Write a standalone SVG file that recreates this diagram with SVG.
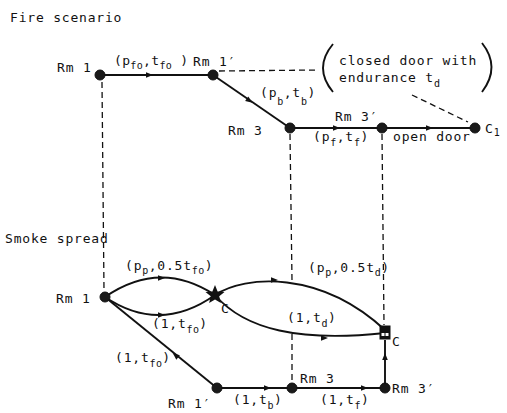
<svg xmlns="http://www.w3.org/2000/svg" width="507" height="413" viewBox="0 0 507 413">
<style>
text{font-family:"DejaVu Sans Mono","Liberation Mono",monospace;font-size:13px;fill:#111;letter-spacing:0.8px}
.sub{font-size:10px;letter-spacing:0.4px}
.e{fill:none;stroke:#111;stroke-width:1.9}
.d{fill:none;stroke:#111;stroke-width:1.3;stroke-dasharray:6,4}
.n{fill:#1a1a1a;stroke:#111;stroke-width:1}
</style>
<defs>
<path id="arr" d="M-4,-2.8 L3,0 L-4,2.8 Z" fill="#111"/>
</defs>
<rect width="507" height="413" fill="#fff"/>
<text x="10" y="22">Fire scenario</text>
<text x="5" y="243">Smoke spread</text>

<g id="connectors">
<path class="d" d="M102,82 L104,291"/>
<path class="d" d="M290,134 L292,281"/>
<path class="d" d="M292,334 L292,382"/>
<path class="d" d="M382,134 L384,325"/>
<path class="d" d="M219,71 L318,70"/>
<path class="d" d="M412,95 L468,122"/>
<path class="e" d="M100,75 L213,75"/>
<path class="e" d="M213,75 L290,128"/>
<path class="e" d="M290,128 L382,128"/>
<path class="e" d="M382,128 L475,128"/>
<use href="#arr" transform="translate(150,75)"/>
<use href="#arr" transform="translate(250,101) rotate(34.5)"/>
<use href="#arr" transform="translate(337,128)"/>
<use href="#arr" transform="translate(430,128)"/>
<path class="e" d="M105,297 Q160,259 215,295"/>
<path class="e" d="M105,297 Q160,334 215,295"/>
<path class="e" d="M215,295 C245,275 320,270 385,330"/>
<path class="e" d="M215,295 C245,330 300,342 385,333"/>
<path class="e" d="M105,297 L217,388"/>
<path class="e" d="M217,388 L292,388"/>
<path class="e" d="M292,388 L385,388"/>
<path class="e" d="M385,388 L385,340"/>
<use href="#arr" transform="translate(162,278)"/>
<use href="#arr" transform="translate(162,315)"/>
<use href="#arr" transform="translate(275,280)"/>
<use href="#arr" transform="translate(325,338)"/>
<use href="#arr" transform="translate(175,355) rotate(219)"/>
<use href="#arr" transform="translate(268,388)"/>
<use href="#arr" transform="translate(365,388)"/>
<use href="#arr" transform="translate(385,356) rotate(-90)"/>
<path class="e" d="M333,44 Q313,68 333,92" stroke-width="1.6"/>
<path class="e" d="M482,43 Q501,67 482,92" stroke-width="1.6"/>
</g>

<text x="114" y="65" style="letter-spacing:0.3px">(p<tspan class="sub" dy="4">fo</tspan><tspan dy="-4">,t</tspan><tspan class="sub" dy="4">fo</tspan><tspan dy="-4"> )</tspan></text>
<text x="260" y="97">(p<tspan class="sub" dy="8">b</tspan><tspan dy="-8">,t</tspan><tspan class="sub" dy="8">b</tspan><tspan dy="-8">)</tspan></text>
<text x="313" y="141">(p<tspan class="sub" dy="5">f</tspan><tspan dy="-5">,t</tspan><tspan class="sub" dy="5">f</tspan><tspan dy="-5">)</tspan></text>
<text x="393" y="141">open door</text>
<text x="339" y="65">closed door with</text>
<text x="339" y="82">endurance t<tspan class="sub" dy="5">d</tspan></text>
<text x="125" y="270">(p<tspan class="sub" dy="4">p</tspan><tspan dy="-4">,0.5t</tspan><tspan class="sub" dy="4">fo</tspan><tspan dy="-4">)</tspan></text>
<text x="152" y="328">(1,t<tspan class="sub" dy="5">fo</tspan><tspan dy="-5">)</tspan></text>
<text x="308" y="272">(p<tspan class="sub" dy="4">p</tspan><tspan dy="-4">,0.5t</tspan><tspan class="sub" dy="4">d</tspan><tspan dy="-4">)</tspan></text>
<text x="287" y="322">(1,t<tspan class="sub" dy="5">d</tspan><tspan dy="-5">)</tspan></text>
<text x="115" y="362">(1,t<tspan class="sub" dy="5">fo</tspan><tspan dy="-5">)</tspan></text>
<text x="233" y="404">(1,t<tspan class="sub" dy="5">b</tspan><tspan dy="-5">)</tspan></text>
<text x="320" y="404">(1,t<tspan class="sub" dy="5">f</tspan><tspan dy="-5">)</tspan></text>

<g id="f-rm1"><circle class="n" cx="100" cy="75" r="5"/><text x="57" y="72">Rm 1</text></g>
<g id="f-rm1p"><circle class="n" cx="213" cy="75" r="5"/><text x="193" y="66">Rm 1′</text></g>
<g id="f-rm3"><circle class="n" cx="290" cy="128" r="5"/><text x="228" y="135">Rm 3</text></g>
<g id="f-rm3p"><circle class="n" cx="382" cy="128" r="5"/><text x="335" y="121">Rm 3′</text></g>
<g id="f-c1"><circle class="n" cx="475" cy="128" r="5"/><text x="485" y="133">C<tspan class="sub" dy="3">1</tspan></text></g>

<g id="s-rm1"><circle class="n" cx="105" cy="297" r="5"/><text x="56" y="303">Rm 1</text></g>
<g id="s-c1"><polygon points="215,285 217.6,291.4 224.5,291.9 219.2,296.3 220.9,303.1 215,299.4 209.1,303.1 210.8,296.3 205.5,291.9 212.4,291.4" fill="#111"/><text x="221" y="313">C</text></g>
<g id="s-c2"><rect x="380" y="326" width="10" height="13" fill="#111" stroke="#111"/><rect x="381.5" y="333" width="3" height="3" fill="#fff"/><rect x="385.5" y="333" width="3" height="3" fill="#fff"/><text x="392" y="346">C</text></g>
<g id="s-rm1p"><circle class="n" cx="217" cy="388" r="5"/><text x="168" y="408">Rm 1′</text></g>
<g id="s-rm3"><circle class="n" cx="292" cy="388" r="5"/><text x="300" y="383">Rm 3</text></g>
<g id="s-rm3p"><circle class="n" cx="385" cy="388" r="5"/><text x="392" y="393">Rm 3′</text></g>
</svg>
